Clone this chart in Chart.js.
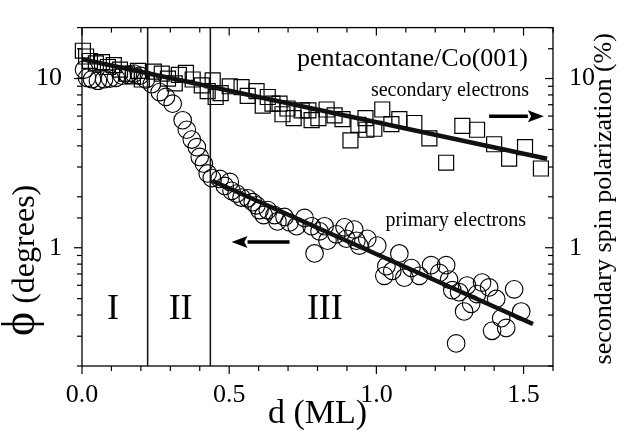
<!DOCTYPE html>
<html>
<head>
<meta charset="utf-8">
<script src="https://cdn.jsdelivr.net/npm/chart.js@4.4.0/dist/chart.umd.min.js"></script>
<style>
  html, body { margin: 0; padding: 0; background: #fff; }
</style>
</head>
<body>
<canvas id="chart" width="617" height="437"></canvas>
<script>
// primary electrons, rotation angle phi (left axis)
const primaryD = [0.007,0.017,0.034,0.054,0.075,0.095,0.115,0.136,0.156,0.176,0.197,0.217,0.237,0.264,0.285,0.308,0.342,0.356,0.373,0.39,0.4,0.414,0.427,0.441,0.468,0.485,0.502,0.508,0.525,0.542,0.563,0.58,0.593,0.603,0.617,0.631,0.654,0.664,0.688,0.705,0.729,0.756,0.78,0.79,0.807,0.824,0.834,0.864,0.892,0.898,0.925,0.932,0.942,0.969,1.003,1.034,1.027,1.054,1.078,1.095,1.119,1.146,1.186,1.214,1.237,1.247,1.258,1.271,1.281,1.298,1.308,1.322,1.342,1.359,1.383,1.393,1.407,1.424,1.441,1.468,1.492];
const primaryPhi = [11.3,10.1,9.9,9.7,9.9,10.0,10.1,10.4,10.5,10.7,10.4,9.87,9.25,8.32,7.79,7.1,5.67,4.98,4.36,3.93,3.44,3.14,2.75,2.58,2.55,2.32,2.45,2.17,2.09,1.98,1.96,1.86,1.78,1.67,1.56,1.67,1.56,1.43,1.52,1.41,1.34,1.5,1.34,0.925,1.25,1.34,1.1,1.2,1.32,1.13,1.28,1.1,1.03,1.13,1.03,0.778,0.682,0.729,0.925,0.665,0.759,0.682,0.789,0.71,0.789,0.648,0.561,0.272,0.546,0.42,0.598,0.466,0.532,0.622,0.583,0.323,0.498,0.383,0.336,0.568,0.42];

// secondary electrons, spin polarization in % (right axis)
const secondaryD = [0.003,0.014,0.027,0.047,0.068,0.088,0.108,0.129,0.153,0.173,0.19,0.203,0.244,0.271,0.292,0.315,0.329,0.353,0.376,0.407,0.427,0.444,0.454,0.471,0.502,0.542,0.563,0.593,0.614,0.631,0.647,0.671,0.681,0.698,0.719,0.746,0.769,0.78,0.803,0.831,0.858,0.885,0.912,0.939,0.963,0.966,0.993,1.02,1.051,1.078,1.129,1.18,1.237,1.292,1.342,1.4,1.451,1.505,1.559];
const secondaryP = [14.6,13.5,12.7,12.3,12.5,11.7,12.0,11.3,10.7,10.3,11.1,9.87,11.0,10.7,10.0,9.36,10.5,10.8,9.87,9.12,8.43,9.74,7.78,8.2,9.0,8.89,7.89,8.43,6.92,7.78,7.1,7.1,6.15,6.65,5.83,6.48,6.48,5.68,5.84,6.56,6.06,5.75,4.31,5.32,5.84,4.98,5.05,6.56,5.38,5.75,5.46,4.43,3.18,5.25,4.98,4.09,3.36,3.93,2.94];

// exponential fits
const primaryFitD = [0.444, 1.532];
const primaryFitPhi = [2.48, 0.354];
const secondaryFitD = [0, 1.58];
const secondaryFitP = [13.0, 3.36];

// region boundaries and labels
const boundaries = [0.223, 0.436];
const regionLabels = ["I", "II", "III"];
const regionD = [0.105, 0.335, 0.825];

const xTickLabels = [0, 0.5, 1, 1.5];
const yTickLabels = [1, 10];

const serif = '"Liberation Serif", "DejaVu Serif", serif';

function pts(xs, ys) { return xs.map((v, i) => ({ x: v, y: ys[i] })); }
function isOneOf(v, list) { return list.some(l => Math.abs(l - v) < 1e-6); }

const lineDs = (data, axis, width) => ({
  type: 'line', data, yAxisID: axis, showLine: true, borderColor: '#111',
  borderWidth: width, pointRadius: 0, fill: false, tension: 0
});

const datasets = [
  lineDs(pts(primaryFitD, primaryFitPhi), 'y', 4.5),
  lineDs(pts(secondaryFitD, secondaryFitP), 'y2', 4.5),
  ...boundaries.map(b => lineDs([{ x: b, y: 0.2 }, { x: b, y: 20 }], 'y', 1.5)),
  {
    label: 'primary electrons', data: pts(primaryD, primaryPhi), yAxisID: 'y',
    pointStyle: 'circle', pointRadius: 8.8, borderColor: '#000', borderWidth: 1.1,
    backgroundColor: 'rgba(255,255,255,0)', clip: false
  },
  {
    label: 'secondary electrons', data: pts(secondaryD, secondaryP), yAxisID: 'y2',
    pointStyle: 'rect', pointRadius: 10.6, borderColor: '#000', borderWidth: 1.2,
    backgroundColor: 'rgba(255,255,255,0)', clip: false
  }
];

const logTicks = {
  autoSkip: false, color: '#000', font: { family: serif, size: 26 },
  callback: v => isOneOf(v, yTickLabels) ? String(Math.round(v)) : ''
};

function arrow(ctx, x1, y1, x2, y2) {
  const dir = Math.sign(x2 - x1);
  const head = 16;
  ctx.lineWidth = 3.5;
  ctx.beginPath();
  ctx.moveTo(x1, y1);
  ctx.lineTo(x2 - dir * head, y2);
  ctx.stroke();
  ctx.beginPath();
  ctx.moveTo(x2, y2);
  ctx.lineTo(x2 - dir * head, y2 - 6);
  ctx.lineTo(x2 - dir * head * 0.8, y2);
  ctx.lineTo(x2 - dir * head, y2 + 6);
  ctx.closePath();
  ctx.fill();
}

const decor = {
  id: 'decor',
  afterDraw(chart) {
    const { ctx, chartArea: a, scales } = chart;
    const x = scales.x, y = scales.y, y2 = scales.y2;
    ctx.save();
    ctx.strokeStyle = '#000';
    ctx.fillStyle = '#000';
    ctx.lineWidth = 1.3;
    ctx.strokeRect(a.left, a.top, a.right - a.left, a.bottom - a.top);

    const seg = (x1, y1, x2, y2_) => { ctx.beginPath(); ctx.moveTo(x1, y1); ctx.lineTo(x2, y2_); ctx.stroke(); };
    ctx.lineWidth = 1.2;
    x.ticks.forEach(t => {
      const px = x.getPixelForValue(t.value);
      const len = isOneOf(t.value, xTickLabels) ? 8 : 5;
      seg(px, a.bottom, px, a.bottom + len);
      seg(px, a.top, px, a.top + len);
    });
    y.ticks.forEach(t => {
      const py = y.getPixelForValue(t.value);
      if (py < a.top - 0.5 || py > a.bottom + 0.5) return;
      const len = isOneOf(t.value, yTickLabels) ? 8 : 5;
      seg(a.left - len, py, a.left, py);
    });
    y2.ticks.forEach(t => {
      const py = y2.getPixelForValue(t.value);
      if (py < a.top - 0.5 || py > a.bottom + 0.5) return;
      const len = isOneOf(t.value, yTickLabels) ? 8 : 5;
      seg(a.right - len, py, a.right, py);
    });

    // annotations
    ctx.textBaseline = 'alphabetic';
    ctx.textAlign = 'right';
    ctx.font = '26px ' + serif;
    ctx.fillText('pentacontane/Co(001)', x.getPixelForValue(1.515), y2.getPixelForValue(11.9));
    ctx.font = '20px ' + serif;
    ctx.fillText('secondary electrons', x.getPixelForValue(1.519), y2.getPixelForValue(7.89));
    ctx.fillText('primary electrons', x.getPixelForValue(1.508), y.getPixelForValue(1.35));

    ctx.textAlign = 'center';
    ctx.font = '36px ' + serif;
    regionLabels.forEach((r, i) => ctx.fillText(r, x.getPixelForValue(regionD[i]), y.getPixelForValue(0.378)));

    arrow(ctx, x.getPixelForValue(1.383), y2.getPixelForValue(5.98), x.getPixelForValue(1.569), y2.getPixelForValue(5.98));
    arrow(ctx, x.getPixelForValue(0.705), y.getPixelForValue(1.08), x.getPixelForValue(0.508), y.getPixelForValue(1.08));

    // axis titles
    ctx.font = '34px ' + serif;
    ctx.fillText('d (ML)', (a.left + a.right) / 2, 423);

    ctx.save();
    ctx.translate(34, 336);
    ctx.rotate(-Math.PI / 2);
    ctx.textAlign = 'left';
    ctx.font = '46px ' + serif;
    ctx.fillText('ϕ', 0, 0);
    const w = ctx.measureText('ϕ').width;
    ctx.font = '32px ' + serif;
    ctx.fillText(' (degrees)', w, 0);
    ctx.restore();

    ctx.save();
    ctx.translate(611, (a.top + a.bottom) / 2 + 2);
    ctx.rotate(-Math.PI / 2);
    ctx.textAlign = 'center';
    ctx.font = '26px ' + serif;
    ctx.fillText('secondary spin polarization (%)', 0, 0);
    ctx.restore();

    ctx.restore();
  }
};

new Chart(document.getElementById('chart'), {
  type: 'scatter',
  data: { datasets },
  options: {
    responsive: false,
    animation: false,
    layout: { padding: { top: 16 } },
    plugins: { legend: { display: false }, tooltip: { enabled: false } },
    scales: {
      x: {
        type: 'linear', min: 0, max: 1.6,
        grid: { display: false }, border: { display: false },
        ticks: {
          stepSize: 0.1, autoSkip: false, maxRotation: 0, padding: 6, color: '#000',
          font: { family: serif, size: 26 },
          callback: v => isOneOf(v, xTickLabels) ? v.toFixed(1) : ''
        },
        afterFit: s => { s.height = 71; }
      },
      y: {
        type: 'logarithmic', position: 'left', min: 0.2, max: 20,
        grid: { display: false }, border: { display: false },
        ticks: { ...logTicks, padding: 12 },
        afterFit: s => { s.width = 82; }
      },
      y2: {
        type: 'logarithmic', position: 'right', min: 0.2, max: 20,
        grid: { display: false }, border: { display: false },
        ticks: { ...logTicks, padding: 8 },
        afterFit: s => { s.width = 64; }
      }
    }
  },
  plugins: [decor]
});
</script>
</body>
</html>
